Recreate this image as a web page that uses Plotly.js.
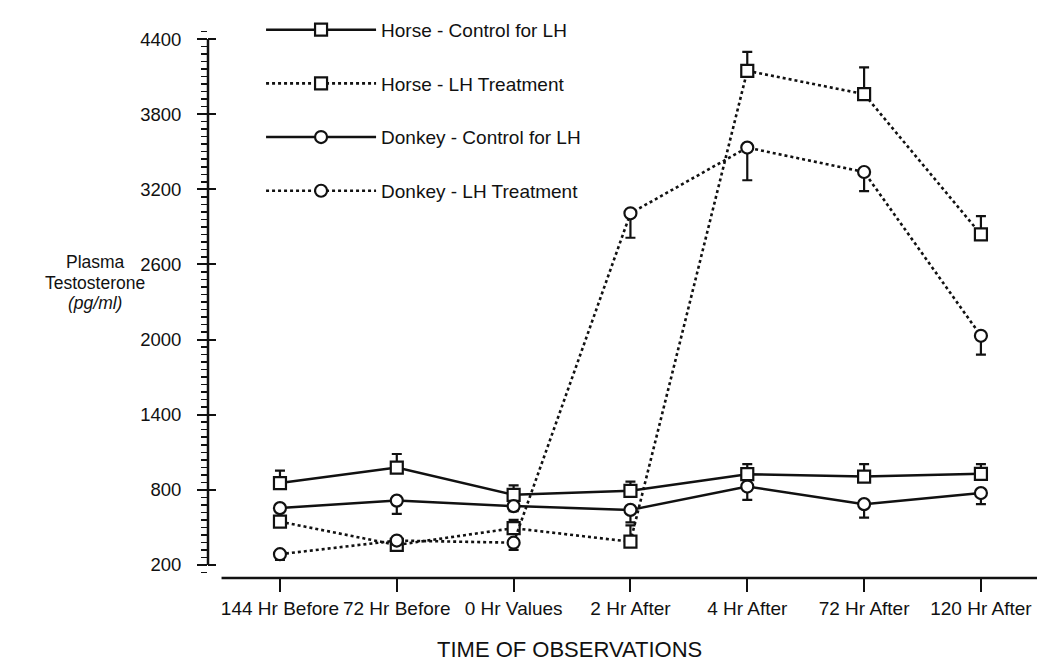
<!DOCTYPE html>
<html>
<head>
<meta charset="utf-8">
<script src="https://cdn.plot.ly/plotly-3.0.1.min.js"></script>
<style>html,body{margin:0;padding:0;background:#fff;}#chart{width:1043px;height:662px;}</style>
</head>
<body>
<div id="chart"></div>
<script>
// ---- data ----
const categories = ["144 Hr Before", "72 Hr Before", "0 Hr Values", "2 Hr After", "4 Hr After", "72 Hr After", "120 Hr After"];
const horseControl = [854, 978, 760, 792, 925, 906, 928];
const horseControlErrUp = [100, 108, 75, 74, 80, 100, 78];
const horseLH = [546, 360, 494, 386, 4146, 3960, 2840];
const horseLHErrUp = [0, 0, 66, 130, 152, 214, 146];
const donkeyControl = [654, 714, 670, 640, 826, 686, 774];
const donkeyControlErrDown = [0, 106, 40, 100, 106, 108, 88];
const donkeyLH = [286, 395, 378, 3008, 3533, 3338, 2030];
const donkeyLHErrDown = [46, 0, 58, 195, 261, 152, 150];
const seriesNames = ["Horse - Control for LH", "Horse - LH Treatment", "Donkey - Control for LH", "Donkey - LH Treatment"];
const yTickVals = [200, 800, 1400, 2000, 2600, 3200, 3800, 4400];
const yTitleLines = ["Plasma", "Testosterone", "<i>(pg/ml)</i>"];

const fam = "Liberation Sans, Arial, Helvetica, sans-serif";
const zeros = categories.map(() => 0);

function trace(name, y, up, down, symbol, dash, grp) {
  return {
    type: "scatter", mode: "lines+markers", name: name, x: categories, y: y,
    legendgroup: grp,
    line: {color: "#111", width: dash === "solid" ? 2.5 : 2.6, dash: dash},
    marker: {symbol: symbol, size: 12, color: "#fff", line: {color: "#111", width: 2.2}},
    error_y: {type: "data", symmetric: false, array: up, arrayminus: down, color: "#111", thickness: 2.2, width: 5},
    cliponaxis: false
  };
}

const data = [
  trace(seriesNames[0], horseControl, horseControlErrUp, zeros, "square", "solid", "a"),
  trace(seriesNames[1], horseLH, horseLHErrUp, zeros, "square", "dot", "b"),
  trace(seriesNames[2], donkeyControl, zeros, donkeyControlErrDown, "circle", "solid", "c"),
  trace(seriesNames[3], donkeyLH, zeros, donkeyLHErrDown, "circle", "dot", "d")
];

const annotations = [
  {xref: "paper", yref: "paper", x: 0.4355, y: -0.131, xanchor: "center", yanchor: "middle", showarrow: false,
   text: "TIME OF OBSERVATIONS", font: {family: fam, size: 22, color: "#111"}}
];
const titleYs = [0.5766, 0.539, 0.502];
yTitleLines.forEach((t, i) => annotations.push({
  xref: "paper", yref: "paper", x: -0.1363, y: titleYs[i], xanchor: "center", yanchor: "middle",
  showarrow: false, text: t, font: {family: fam, size: 17.5, color: "#111"}
}));

const layout = {
  width: 1043, height: 662,
  margin: {l: 208, r: 6, t: 30, b: 84},
  paper_bgcolor: "#fff", plot_bgcolor: "#fff",
  showlegend: true,
  legend: {
    x: 0.064, y: 1.035, xanchor: "left", yanchor: "top",
    bgcolor: "rgba(0,0,0,0)", font: {family: fam, size: 19, color: "#111"},
    tracegroupgap: 26, itemwidth: 110, traceorder: "grouped"
  },
  xaxis: {
    type: "category", range: [-0.616, 6.48],
    showline: false, showgrid: false, zeroline: false,
    ticks: "outside", ticklen: 13, tickwidth: 2, tickcolor: "#111",
    tickfont: {family: fam, size: 19, color: "#111"}, fixedrange: true
  },
  yaxis: {
    range: [96, 4472], showline: false, showgrid: false, zeroline: false,
    tickvals: yTickVals, ticks: "outside", ticklen: 10, tickwidth: 2, tickcolor: "#111",
    minor: {dtick: 60, tick0: 200, ticks: "outside", ticklen: 6, tickwidth: 1.5, tickcolor: "#111"},
    tickfont: {family: fam, size: 18.5, color: "#111"}, ticklabelstandoff: 12, fixedrange: true
  },
  yaxis2: {
    overlaying: "y", range: [96, 4472], showline: false, showgrid: false, zeroline: false,
    tickvals: yTickVals, ticks: "inside", ticklen: 8, tickwidth: 2, tickcolor: "#111",
    showticklabels: false, side: "left"
  },
  shapes: [
    {type: "line", xref: "paper", x0: 0, x1: 0, yref: "y", y0: 200, y1: 4400, line: {color: "#111", width: 2.5}},
    {type: "line", xref: "x", x0: -0.5, x1: 6.48, yref: "paper", y0: 0, y1: 0, line: {color: "#111", width: 2.5}}
  ],
  annotations: annotations
};

// invisible trace so the overlaying axis (inner tick half) is drawn
data.push({type: "scatter", x: [categories[0]], y: [yTickVals[0]], yaxis: "y2", mode: "none", showlegend: false, hoverinfo: "skip"});

Plotly.newPlot("chart", data, layout, {staticPlot: true, displayModeBar: false});
</script>
</body>
</html>
